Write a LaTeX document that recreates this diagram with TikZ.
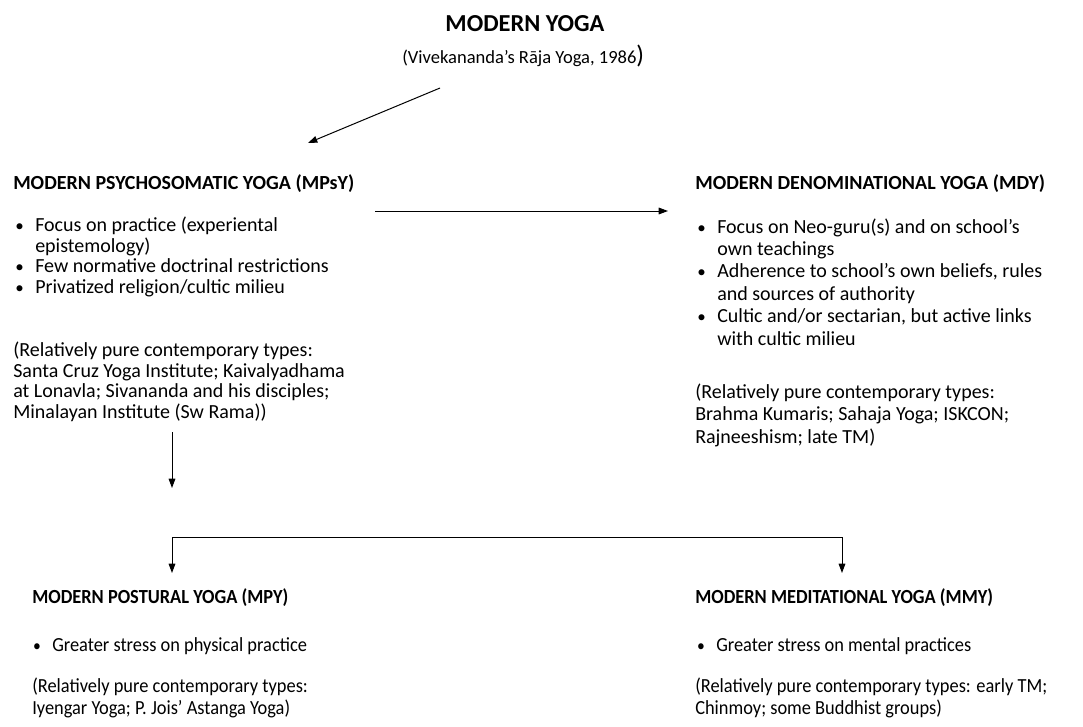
\documentclass[tikz,border=0pt]{standalone}
\usepackage{fontspec}
\setmainfont{Carlito}
\newfontfamily\narrowfont[FakeStretch=0.92]{Carlito}
\usetikzlibrary{arrows.meta,positioning}

\newcommand\bitem{\llap{\scalebox{0.85}{\textbullet}\hspace{8.5pt}}}

% multi-line nodes sit on the baseline of their last line
\tikzset{
  head/.style={anchor=base west, inner sep=0pt, font=\fontsize{15}{18}\selectfont\bfseries},
  nhead/.style={head, font=\narrowfont\fontsize{15}{18}\selectfont\bfseries},
  body/.style={anchor=base west, inner sep=0pt, align=left, font=\fontsize{15}{15.4}\selectfont},
  wide/.style={body, font=\fontsize{15}{16.8}\selectfont},
  narrow/.style={body, font=\narrowfont\fontsize{15}{16.5}\selectfont},
  link/.style={-{Triangle[length=7pt,width=5pt]}, line width=0.75pt},
  fork/.style={{Triangle[length=7pt,width=5pt]}-{Triangle[length=7pt,width=5pt]}, line width=0.75pt},
}

\begin{document}
\begin{tikzpicture}[x=0.75pt,y=-0.75pt]
		\useasboundingbox (0,0) rectangle (1083,726);
		
		% Title
		\node[anchor=base, inner sep=0pt, font=\fontsize{18.3}{22}\selectfont\bfseries] (title) at (525,31) {MODERN YOGA};
		\node[anchor=base west, inner sep=0pt, font=\fontsize{13.9}{16}\selectfont] (source) at (402,63) {(Vivekananda’s Rāja Yoga, 1986{\fontsize{19}{19}\selectfont)}};
		
		% Psychosomatic branch
		\node[head] (mpsy) at (13,189) {MODERN PSYCHOSOMATIC YOGA (MPsY)};
		\node[body] (mpsy-list) at (35,293.5) {\bitem Focus on practice (experiental\\ epistemology)\\ \bitem Few normative doctrinal restrictions\\ \bitem Privatized religion/cultic milieu};
		\node[body] (mpsy-types) at (13,418.5) {(Relatively pure contemporary types:\\ Santa Cruz Yoga Institute; Kaivalyadhama\\ at Lonavla; Sivananda and his disciples;\\ Minalayan Institute (Sw Rama))};
		
		% Denominational branch
		\node[head] (mdy) at (695,189) {MODERN DENOMINATIONAL YOGA (MDY)};
		\node[wide] (mdy-list) at (717,345) {\bitem Focus on Neo-guru(s) and on school’s\\ own teachings\\ \bitem Adherence to school’s own beliefs, rules\\ and sources of authority\\ \bitem Cultic and/or sectarian, but active links\\ with cultic milieu};
		\node[wide] (mdy-types) at (695,443) {(Relatively pure contemporary types:\\ Brahma Kumaris; Sahaja Yoga; ISKCON;\\ Rajneeshism; late TM)};
		
		% Postural branch
		\node[nhead] (mpy) at (32,603) {MODERN POSTURAL YOGA (MPY)};
		\node[narrow] (mpy-list) at (52,651) {\bitem Greater stress on physical practice};
		\node[narrow] (mpy-types) at (32,714) {(Relatively pure contemporary types:\\ Iyengar Yoga; P. Jois’ Astanga Yoga)};
		
		% Meditational branch
		\node[nhead] (mmy) at (695,603) {MODERN MEDITATIONAL YOGA (MMY)};
		\node[narrow] (mmy-list) at (716,651) {\bitem Greater stress on mental practices};
		\node[narrow] (mmy-types) at (695,714) {(Relatively pure contemporary types: early TM;\\ Chinmoy; some Buddhist groups)};
		
		% Arrows
		\coordinate (d1) at (440,88);
		\coordinate (d2) at (308,143);
		\draw[link] (d1) -- (d2);
		\coordinate (h1) at (375,211);
		\coordinate (h2) at (668,211);
		\draw[link] (h1) -- (h2);
		\coordinate (v1) at (172,432);
		\coordinate (v2) at (172,488);
		\draw[link] (v1) -- (v2);
		
		% Split into the two later branches
		\coordinate (b1) at (172,537);
		\coordinate (b2) at (842,537);
		\coordinate (t1) at (172,573);
		\coordinate (t2) at (842,573);
		\draw[fork] (t1) -- (b1) -- (b2) -- (t2);
	\end{tikzpicture}
\end{document}
